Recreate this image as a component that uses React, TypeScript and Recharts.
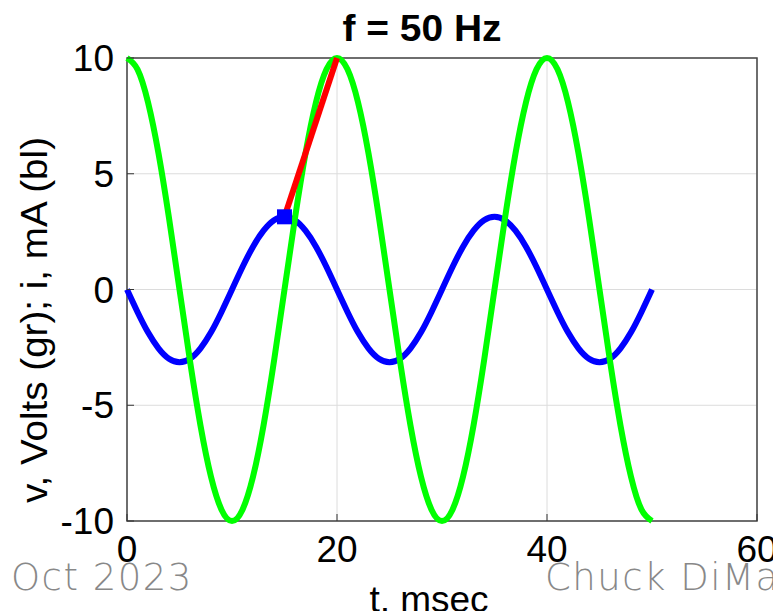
import { LineChart, Line, XAxis, YAxis, CartesianGrid, ReferenceArea } from "recharts";

// time in msec, one sample per msec
const tMs = [
  0, 1, 2, 3, 4, 5, 6, 7, 8, 9, 10, 11, 12, 13, 14, 15, 16, 17, 18, 19, 20,
  21, 22, 23, 24, 25, 26, 27, 28, 29, 30, 31, 32, 33, 34, 35, 36, 37, 38, 39, 40,
  41, 42, 43, 44, 45, 46, 47, 48, 49, 50,
];

// green trace, volts
const volts = [
  10, 9.51, 8.09, 5.88, 3.09, 0, -3.09, -5.88, -8.09, -9.51, -10,
  -9.51, -8.09, -5.88, -3.09, 0, 3.09, 5.88, 8.09, 9.51, 10,
  9.51, 8.09, 5.88, 3.09, 0, -3.09, -5.88, -8.09, -9.51, -10,
  -9.51, -8.09, -5.88, -3.09, 0, 3.09, 5.88, 8.09, 9.51, 10,
  9.51, 8.09, 5.88, 3.09, 0, -3.09, -5.88, -8.09, -9.51, -10,
];

// blue trace, mA
const milliamps = [
  0, -0.97, -1.85, -2.54, -2.99, -3.14, -2.99, -2.54, -1.85, -0.97, 0,
  0.97, 1.85, 2.54, 2.99, 3.14, 2.99, 2.54, 1.85, 0.97, 0,
  -0.97, -1.85, -2.54, -2.99, -3.14, -2.99, -2.54, -1.85, -0.97, 0,
  0.97, 1.85, 2.54, 2.99, 3.14, 2.99, 2.54, 1.85, 0.97, 0,
  -0.97, -1.85, -2.54, -2.99, -3.14, -2.99, -2.54, -1.85, -0.97, 0,
];

// red segment from current peak to voltage peak
const redT = [15, 20];
const redV = [3.14, 10];

// blue square marker
const markT = 15;
const markV = 3.14;

const xTicks = [0, 20, 40, 60];
const yTicks = [-10, -5, 0, 5, 10];

const data = tMs.map((t, i) => {
  const r = redT.indexOf(t);
  return {
    t,
    v: volts[i],
    i: milliamps[i],
    red: r >= 0 ? redV[r] : null,
    mark: t === markT ? markV : null,
  };
});

const FONT = "'Liberation Sans', Arial, Helvetica, sans-serif";
const FOOT = "'DejaVu Sans', sans-serif";

const SquareDot = (props: any) => {
  const { cx, cy, value } = props;
  if (value == null || cx == null) return <g key={props.key} />;
  return <rect key={props.key} x={cx - 7.5} y={cy - 7.5} width={15} height={15} fill="#0000ff" />;
};

export default function App() {
  return (
    <div style={{ position: "absolute", left: 0, top: 0, width: 773, height: 611, background: "#fff" }}>
      <LineChart
        width={773}
        height={611}
        data={data}
        margin={{ top: 58, right: 16, bottom: 0, left: 0 }}
      >
        <CartesianGrid stroke="#dcdcdc" strokeWidth={1} />
        <XAxis
          dataKey="t"
          type="number"
          domain={[0, 60]}
          ticks={xTicks}
          height={90}
          axisLine={false}
          tickSize={-7}
          tickMargin={22}
          tickLine={{ stroke: "#333" }}
          tick={{ fontSize: 37, fill: "#000", fontFamily: FONT }}
          interval={0}
        />
        <XAxis
          xAxisId="top"
          orientation="top"
          type="number"
          domain={[0, 60]}
          ticks={xTicks}
          height={0}
          axisLine={false}
          tickSize={-7}
          tickLine={{ stroke: "#333" }}
          tick={false}
        />
        <YAxis
          type="number"
          domain={[-10, 10]}
          ticks={yTicks}
          width={127}
          axisLine={false}
          tickSize={-7}
          tickMargin={20}
          tickLine={{ stroke: "#333" }}
          tick={{ fontSize: 37, fill: "#000", fontFamily: FONT }}
          interval={0}
        />
        <YAxis
          yAxisId="right"
          orientation="right"
          type="number"
          domain={[-10, 10]}
          ticks={yTicks}
          width={0}
          axisLine={false}
          tickSize={-7}
          tickLine={{ stroke: "#333" }}
          tick={false}
        />
        <ReferenceArea x1={0} x2={60} y1={-10} y2={10} fill="none" stroke="#444" strokeWidth={1.5} />
        <Line
          dataKey="i"
          type="natural"
          stroke="#0000ff"
          strokeWidth={6}
          dot={false}
          activeDot={false}
          isAnimationActive={false}
        />
        <Line
          dataKey="v"
          type="natural"
          stroke="#00ff00"
          strokeWidth={6}
          dot={false}
          activeDot={false}
          isAnimationActive={false}
        />
        <Line
          dataKey="red"
          type="linear"
          stroke="#ff0000"
          strokeWidth={6}
          connectNulls
          dot={false}
          activeDot={false}
          isAnimationActive={false}
        />
        <Line
          dataKey="mark"
          stroke="none"
          dot={SquareDot}
          activeDot={false}
          isAnimationActive={false}
        />
      </LineChart>
      <svg
        width={773}
        height={611}
        style={{ position: "absolute", left: 0, top: 0, pointerEvents: "none" }}
      >
        <text
          x={422}
          y={41}
          textAnchor="middle"
          fontFamily={FONT}
          fontWeight="bold"
          fontSize={36}
          textLength={159}
          lengthAdjust="spacingAndGlyphs"
        >
          f = 50 Hz
        </text>
        <text
          transform="translate(47,320) rotate(-90)"
          textAnchor="middle"
          fontFamily={FONT}
          fontSize={37}
          textLength={366}
          lengthAdjust="spacingAndGlyphs"
        >
          v, Volts (gr); i, mA (bl)
        </text>
        <text x={11} y={590} fontFamily={FOOT} fontWeight={200} fontSize={37} fill="#888" letterSpacing={1.5}>
          Oct 2023
        </text>
        <text x={545} y={590} fontFamily={FOOT} fontWeight={200} fontSize={37} fill="#888" letterSpacing={1.5}>
          Chuck DiMarzio
        </text>
        <text x={429} y={612} textAnchor="middle" fontFamily={FONT} fontSize={37}>
          t, msec
        </text>
      </svg>
    </div>
  );
}
